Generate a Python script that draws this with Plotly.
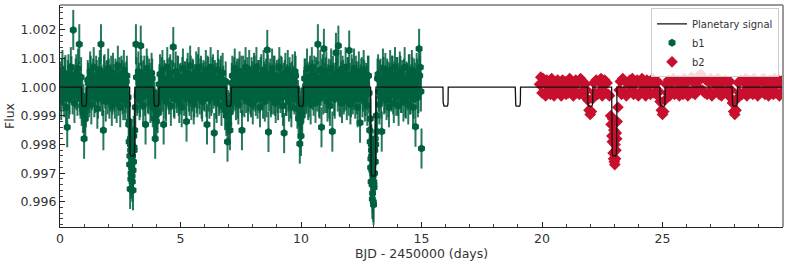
import plotly.graph_objects as go

# ---------------- data ----------------
b1_time = [
    0.00, 0.05, 0.10, 0.15, 0.20, 0.25, 0.30, 0.35, 0.40, 0.45, 0.50, 0.55, 0.60, 0.65, 0.70, 0.75, 0.80, 0.85, 0.90, 0.95,
    1.00, 1.05, 1.10, 1.15, 1.20, 1.25, 1.30, 1.35, 1.40, 1.45, 1.50, 1.55, 1.60, 1.65, 1.70, 1.75, 1.80, 1.85, 1.90, 1.95,
    2.00, 2.05, 2.10, 2.15, 2.20, 2.25, 2.30, 2.35, 2.40, 2.45, 2.50, 2.55, 2.60, 2.65, 2.70, 2.75, 2.80, 2.85, 2.90, 2.95,
    3.00, 3.05, 3.10, 3.15, 3.20, 3.25, 3.30, 3.35, 3.40, 3.45, 3.50, 3.55, 3.60, 3.65, 3.70, 3.75, 3.80, 3.85, 3.90, 3.95,
    4.00, 4.05, 4.10, 4.15, 4.20, 4.25, 4.30, 4.35, 4.40, 4.45, 4.50, 4.55, 4.60, 4.65, 4.70, 4.75, 4.80, 4.85, 4.90, 4.95,
    5.00, 5.05, 5.10, 5.15, 5.20, 5.25, 5.30, 5.35, 5.40, 5.45, 5.50, 5.55, 5.60, 5.65, 5.70, 5.75, 5.80, 5.85, 5.90, 5.95,
    6.00, 6.05, 6.10, 6.15, 6.20, 6.25, 6.30, 6.35, 6.40, 6.45, 6.50, 6.55, 6.60, 6.65, 6.70, 6.75, 6.80, 6.85, 6.90, 6.95,
    7.00, 7.05, 7.10, 7.15, 7.20, 7.25, 7.30, 7.35, 7.40, 7.45, 7.50, 7.55, 7.60, 7.65, 7.70, 7.75, 7.80, 7.85, 7.90, 7.95,
    8.00, 8.05, 8.10, 8.15, 8.20, 8.25, 8.30, 8.35, 8.40, 8.45, 8.50, 8.55, 8.60, 8.65, 8.70, 8.75, 8.80, 8.85, 8.90, 8.95,
    9.00, 9.05, 9.10, 9.15, 9.20, 9.25, 9.30, 9.35, 9.40, 9.45, 9.50, 9.55, 9.60, 9.65, 9.70, 9.75, 9.80, 9.85, 9.90, 9.95,
    10.00, 10.05, 10.10, 10.15, 10.20, 10.25, 10.30, 10.35, 10.40, 10.45, 10.50, 10.55, 10.60, 10.65, 10.70, 10.75, 10.80, 10.85, 10.90, 10.95,
    11.00, 11.05, 11.10, 11.15, 11.20, 11.25, 11.30, 11.35, 11.40, 11.45, 11.50, 11.55, 11.60, 11.65, 11.70, 11.75, 11.80, 11.85, 11.90, 11.95,
    12.00, 12.05, 12.10, 12.15, 12.20, 12.25, 12.30, 12.35, 12.40, 12.45, 12.50, 12.55, 12.60, 12.65, 12.70, 12.75, 12.80, 12.85, 12.90, 12.95,
    13.00, 13.05, 13.10, 13.15, 13.20, 13.25, 13.30, 13.35, 13.40, 13.45, 13.50, 13.55, 13.60, 13.65, 13.70, 13.75, 13.80, 13.85, 13.90, 13.95,
    14.00, 14.05, 14.10, 14.15, 14.20, 14.25, 14.30, 14.35, 14.40, 14.45, 14.50, 14.55, 14.60, 14.65, 14.70, 14.75, 14.80, 14.85, 14.90, 14.95,
    15.00,
    2.87, 2.89, 2.91, 2.93, 2.97, 2.99, 3.01, 3.03, 3.07, 2.92, 2.98, 3.02, 2.94, 3.06,
    12.87, 12.89, 12.91, 12.93, 12.97, 12.99, 13.01, 13.03, 13.07, 12.92, 12.98, 13.02, 12.94, 13.06, 13.08, 12.96,
    0.025, 0.075, 0.125, 0.175, 0.225, 0.275, 0.325, 0.375, 0.425, 0.475, 0.525, 0.575, 0.625, 0.675, 0.725, 0.775, 0.825, 0.875, 0.925, 0.975,
    1.025, 1.075, 1.125, 1.175, 1.225, 1.275, 1.325, 1.375, 1.425, 1.475, 1.525, 1.575, 1.625, 1.675, 1.725, 1.775, 1.825, 1.875, 1.925, 1.975,
    2.025, 2.075, 2.125, 2.175, 2.225, 2.275, 2.325, 2.375, 2.425, 2.475, 2.525, 2.575, 2.625, 2.675, 2.725, 2.775, 2.825, 2.875, 2.925, 2.975,
    3.025, 3.075, 3.125, 3.175, 3.225, 3.275, 3.325, 3.375, 3.425, 3.475, 3.525, 3.575, 3.625, 3.675, 3.725, 3.775, 3.825, 3.875, 3.925, 3.975,
    4.025, 4.075, 4.125, 4.175, 4.225, 4.275, 4.325, 4.375, 4.425, 4.475, 4.525, 4.575, 4.625, 4.675, 4.725, 4.775, 4.825, 4.875, 4.925, 4.975,
    5.025, 5.075, 5.125, 5.175, 5.225, 5.275, 5.325, 5.375, 5.425, 5.475, 5.525, 5.575, 5.625, 5.675, 5.725, 5.775, 5.825, 5.875, 5.925, 5.975,
    6.025, 6.075, 6.125, 6.175, 6.225, 6.275, 6.325, 6.375, 6.425, 6.475, 6.525, 6.575, 6.625, 6.675, 6.725, 6.775, 6.825, 6.875, 6.925, 6.975,
    7.025, 7.075, 7.125, 7.175, 7.225, 7.275, 7.325, 7.375, 7.425, 7.475, 7.525, 7.575, 7.625, 7.675, 7.725, 7.775, 7.825, 7.875, 7.925, 7.975,
    8.025, 8.075, 8.125, 8.175, 8.225, 8.275, 8.325, 8.375, 8.425, 8.475, 8.525, 8.575, 8.625, 8.675, 8.725, 8.775, 8.825, 8.875, 8.925, 8.975,
    9.025, 9.075, 9.125, 9.175, 9.225, 9.275, 9.325, 9.375, 9.425, 9.475, 9.525, 9.575, 9.625, 9.675, 9.725, 9.775, 9.825, 9.875, 9.925, 9.975,
    10.025, 10.075, 10.125, 10.175, 10.225, 10.275, 10.325, 10.375, 10.425, 10.475, 10.525, 10.575, 10.625, 10.675, 10.725, 10.775, 10.825, 10.875, 10.925, 10.975,
    11.025, 11.075, 11.125, 11.175, 11.225, 11.275, 11.325, 11.375, 11.425, 11.475, 11.525, 11.575, 11.625, 11.675, 11.725, 11.775, 11.825, 11.875, 11.925, 11.975,
    12.025, 12.075, 12.125, 12.175, 12.225, 12.275, 12.325, 12.375, 12.425, 12.475, 12.525, 12.575, 12.625, 12.675, 12.725, 12.775, 12.825, 12.875, 12.925, 12.975,
    13.025, 13.075, 13.125, 13.175, 13.225, 13.275, 13.325, 13.375, 13.425, 13.475, 13.525, 13.575, 13.625, 13.675, 13.725, 13.775, 13.825, 13.875, 13.925, 13.975,
    14.025, 14.075, 14.125, 14.175, 14.225, 14.275, 14.325, 14.375, 14.425, 14.475, 14.525, 14.575, 14.625, 14.675, 14.725, 14.775, 14.825, 14.875, 14.925, 14.975,
]
# flux offset from 1, in ppm
b1_flux_ppm = [
    200, -450, 600, -150, 350, -700, -1400, 450, -250, 700, 100, 2000, -550, 300, -100, 650, 1500, -400, -650, -900,
    -1800, -1100, -500, 250, -350, 550, -600, 150, 700, -200, 400, -750, 50, 600, 1500, -300, -1500, 450, -500, 250,
    650, -400, 100, -650, 500, -150, 300, -550, 750, 0, -700, 400, -250, 600, -450, 200, -600, -1300, -2400, -3000,
    -3300, -2600, -1500, 1500, -300, 550, -450, 1450, 200, -650, 400, -1300, 650, -200, 300, -550, 500, -700, -1100, -1800,
    -1200, -900, -350, 450, -250, 600, -1300, 150, -500, 700, -100, 350, -650, 250, 1400, -400, 550, -200, 400, -550,
    150, -700, 650, -300, 200, -1200, 500, -150, 750, -450, 300, -600, 100, 550, -350, 700, -250, 400, -500, 250,
    -150, 600, -1300, 350, -400, 700, -200, 450, -1600, 150, -550, 600, -300, 250, -650, 500, -350, -800, -1000, -1900,
    -1300, -1500, -600, 400, -150, 650, -450, 300, -600, 550, -200, -1500, 400, -350, 700, 100, -500, 600, -250, 350,
    -600, 500, -150, 700, -400, 250, -700, 450, -100, 600, -500, 300, 1300, -1560, 150, -350, 650, -250, 400, -550,
    250, -450, 700, -200, 350, -650, -1600, 500, -300, 600, -500, 150, -700, 450, -150, 550, -400, -750, -1100, -1970,
    -1700, -1000, -550, 300, -250, 650, -450, 200, -600, 700, -100, 400, -550, 250, 1500, -350, 600, -1400, 450, 1340,
    -200, 550, -500, 300, -650, 650, -1550, 150, -400, 1200, 500, 1450, -300, 600, -550, 250, -150, 700, -450, 350,
    1280, -600, 450, -250, 650, -400, 200, -700, 550, -1240, 300, -350, 600, -500, 150, -650, 400, -1500, -2500, -3400,
    -4000, -3000, -2000, -1550, 450, -600, 300, -1550, 650, -250, 500, -450, 200, -700, 600, -150, 400, -550, 700, -300,
    350, -650, 550, -200, 250, -500, 700, -400, 150, -600, 450, -250, 600, -700, 300, -1380, 500, -350, 1340, 700,
    -2140,
    -1900, -2700, -3550, -2200, -2800, -3100, -2400, -3600, -2100, -1800, -2000, -2900, -3200, -1700,
    -1900, -2800, -3300, -2400, -3700, -3100, -4100, -3500, -2600, -2000, -2700, -3300, -2900, -2200, -1800, -3900,
    -150, 300, 50, -350, 420, -100, 250, -400, 150, 380, -250, 100, -50, 450, -300, 200, -150, 350, -450, -600,
    -900, -700, -300, 150, -200, 400, -100, 300, -350, 50, 250, -400, 350, -150, 100, -300, 400, -50, 200, -250,
    300, -150, 400, -250, 100, -400, 200, 50, -300, 350, -100, 250, -450, 150, -200, 400, -350, -1200, -2000, -2700,
    -2900, -2200, -700, 350, -200, 150, -350, 400, -100, 250, -300, 50, 400, -250, 150, -400, 300, -200, -500, -750,
    -800, -550, 100, -300, 350, -150, 250, -400, 50, 300, -250, 450, -100, 200, -350, 150, -50, 400, -300, 100,
    -250, 350, -100, 200, -400, 300, 50, -300, 400, -150, 250, -350, 100, -200, 450, -50, 300, -400, 150, -100,
    200, -350, 400, -150, 100, -300, 350, -50, 250, -400, 150, 300, -200, 400, -100, 50, -350, 200, -550, -800,
    -900, -650, 150, -250, 350, -100, 200, -400, 300, -50, 400, -300, 100, 250, -200, 350, -150, 50, -350, 200,
    -100, 400, -300, 150, 250, -200, 350, -50, -400, 200, 100, -350, 450, -150, 300, -250, 50, 400, -300, 150,
    -200, 300, -50, 400, -350, 150, 250, -300, 100, -150, 350, -400, 200, 50, -250, 400, -100, -450, -650, -850,
    -850, -600, -100, 300, -200, 150, -350, 400, -50, 250, -300, 100, 350, -150, 200, -400, 50, 300, -250, 150,
    350, -200, 100, -400, 250, -50, 400, -300, 150, 300, -150, 50, -350, 200, 400, -250, 100, -100, 350, -300,
    150, -350, 300, -100, 50, 400, -250, 200, -400, 100, 350, -150, 250, -300, 50, 400, -200, -1100, -2200, -3000,
    -3400, -2600, -1000, 300, -150, 250, -400, 100, 350, -200, 50, 300, -350, 150, -100, 400, -250, 200, -50, 350,
    -300, 150, 400, -200, 50, 300, -350, 200, -100, 450, -250, 100, 350, -400, 150, -50, 300, -200, 400, -150,
]
b1_err_ppm = 700

b2_time = [
    19.90, 19.95,
    20.00, 20.05, 20.10, 20.15, 20.20, 20.25, 20.30, 20.35, 20.40, 20.45, 20.50, 20.55, 20.60, 20.65, 20.70, 20.75, 20.80, 20.85, 20.90, 20.95,
    21.00, 21.05, 21.10, 21.15, 21.20, 21.25, 21.30, 21.35, 21.40, 21.45, 21.50, 21.55, 21.60, 21.65, 21.70, 21.75, 21.80, 21.85, 21.90, 21.95,
    22.00, 22.05, 22.10, 22.15, 22.20, 22.25, 22.30, 22.35, 22.40, 22.45, 22.50, 22.55, 22.60, 22.65, 22.70, 22.75, 22.80, 22.85, 22.90, 22.95,
    23.00, 23.05, 23.10, 23.15, 23.20, 23.25, 23.30, 23.35, 23.40, 23.45, 23.50, 23.55, 23.60, 23.65, 23.70, 23.75, 23.80, 23.85, 23.90, 23.95,
    24.00, 24.05, 24.10, 24.15, 24.20, 24.25, 24.30, 24.35, 24.40, 24.45, 24.50, 24.55, 24.60, 24.65, 24.70, 24.75, 24.80, 24.85, 24.90, 24.95,
    25.00, 25.05, 25.10, 25.15, 25.20, 25.25, 25.30, 25.35, 25.40, 25.45, 25.50, 25.55, 25.60, 25.65, 25.70, 25.75, 25.80, 25.85, 25.90, 25.95,
    26.00, 26.05, 26.10, 26.15, 26.20, 26.25, 26.30, 26.35, 26.40, 26.45, 26.50, 26.55, 26.60, 26.65, 26.70, 26.75, 26.80, 26.85, 26.90, 26.95,
    27.00, 27.05, 27.10, 27.15, 27.20, 27.25, 27.30, 27.35, 27.40, 27.45, 27.50, 27.55, 27.60, 27.65, 27.70, 27.75, 27.80, 27.85, 27.90, 27.95,
    28.00, 28.05, 28.10, 28.15, 28.20, 28.25, 28.30, 28.35, 28.40, 28.45, 28.50, 28.55, 28.60, 28.65, 28.70, 28.75, 28.80, 28.85, 28.90, 28.95,
    29.00, 29.05, 29.10, 29.15, 29.20, 29.25, 29.30, 29.35, 29.40, 29.45, 29.50, 29.55, 29.60, 29.65, 29.70, 29.75, 29.80, 29.85, 29.90, 29.95,
    30.00,
    22.87, 22.92, 22.97, 23.02, 23.07, 23.12, 22.98, 23.03, 22.93, 23.08,
]
b2_flux_ppm = [
    100, 350,
    -200, 300, 150, -300, 250, -100, 200, -250, 300, 0, -300, 200, -150, 250, -200, 100, -300, 250, -50, 200,
    -250, 150, -200, 300, -100, 200, -300, 100, 250, -200, 150, -250, 300, -150, 200, -300, 100, -100, -450, -800,
    -950, -850, -400, 150, -200, 250, -250, 200, -150, 300, -300, 100, 250, -200, 150, -250, -300, -1000, -1700, -2300,
    -2600, -2500, -1800, -700, -100, 200, -250, 300, -150, 200, -300, 150, -200, 250, -100, 300, -250, 100, -200, 250,
    -300, 200, -150, 300, -200, 100, -300, 250, -100, 200, -250, 150, 300, -200, 100, -250, 200, -150, -500, -800,
    -950, -850, -450, 100, -200, 250, -300, 150, -100, 300, -250, 200, -150, 250, -300, 100, 200, -250, 300, -100,
    150, -300, 250, -150, 350, -200, 150, -250, 300, 0, 400, 250, 450, -100, 350, -200, 250, -250, 200, -150,
    300, -300, 150, -200, 250, -100, 300, -250, 100, -300, 200, -150, 250, -200, 150, -300, 200, -100, -550, -850,
    -950, -800, -400, 150, -200, 250, -250, 200, -150, 300, -300, 100, 250, -200, 150, -250, 300, -100, 200, -300,
    150, -200, 250, -150, 300, -250, 100, 200, -300, 250, -100, 150, -250, 300, -200, 100, 250, -300, 200, -150,
    250,
    -1300, -1900, -2500, -2700, -2200, -1200, -1500, -2000, -1100, -1600,
]

# planetary signal (transit model)
transit_time = [1, 3, 4, 7, 10, 13, 16, 19, 22, 23, 25, 28]
transit_depth = [0.00066, 0.0024, 0.00066, 0.00066, 0.00066, 0.0031,
                 0.00066, 0.00066, 0.00066, 0.0024, 0.00066, 0.00066]
model_start, model_end = 0.0, 30.0

# ---------------- styles ----------------
GREEN = "#00613F"
GREEN_ERR = "rgba(0,97,63,0.85)"
RED = "#C8102E"
half_w = 0.11
prof_x = [-1.0, -0.92, -0.8, -0.6, 0.6, 0.8, 0.92, 1.0]
prof_d = [0.0, 0.8, 0.96, 1.0, 1.0, 0.96, 0.8, 0.0]

model_x = [model_start]
model_y = [1.0]
for tc, d in zip(transit_time, transit_depth):
    for px, pd in zip(prof_x, prof_d):
        model_x.append(tc + px * half_w)
        model_y.append(1.0 - d * pd)
model_x.append(model_end)
model_y.append(1.0)

b1_flux = [1.0 + v * 1e-6 for v in b1_flux_ppm]
b2_flux = [1.0 + v * 1e-6 for v in b2_flux_ppm]

fig = go.Figure()
fig.add_trace(go.Scatter(
    x=b1_time, y=b1_flux, mode="markers", name="b1", legendrank=2,
    marker=dict(symbol="hexagon", size=8, color=GREEN, line=dict(width=0)),
    error_y=dict(type="constant", value=b1_err_ppm * 1e-6, color=GREEN_ERR,
                 thickness=2.0, width=0),
))
fig.add_trace(go.Scatter(
    x=b2_time, y=b2_flux, mode="markers", name="b2", legendrank=3,
    marker=dict(symbol="diamond", size=9, color=RED, line=dict(width=0)),
))
fig.add_trace(go.Scatter(
    x=model_x, y=model_y, mode="lines", name="Planetary signal", legendrank=1,
    line=dict(color="#111111", width=1.3),
))

axis_font = dict(family="DejaVu Sans", size=12.5, color="#333333")
fig.update_layout(
    width=789, height=263,
    margin=dict(l=60, r=6, t=5, b=36, autoexpand=False),
    paper_bgcolor="white", plot_bgcolor="white",
    font=axis_font,
    showlegend=True,
    legend=dict(x=0.9945, y=0.985, xanchor="right", yanchor="top",
                bgcolor="rgba(255,255,255,0.85)", bordercolor="#cccccc",
                borderwidth=1, font=dict(family="DejaVu Sans", size=10, color="#333333"),
                tracegroupgap=0, itemwidth=30),
    shapes=[
        dict(type="line", xref="paper", yref="paper", x0=0, x1=1, y0=1, y1=1,
             line=dict(color="#999999", width=2)),
        dict(type="line", xref="paper", yref="paper", x0=1, x1=1, y0=0, y1=1,
             line=dict(color="#999999", width=2)),
    ],
)
fig.update_xaxes(
    range=[0, 30.0], tickvals=[0, 5, 10, 15, 20, 25],
    ticks="inside", ticklen=5, tickwidth=1, tickcolor="#222222",
    showline=True, linecolor="#222222", linewidth=1.2, mirror=False,
    showgrid=False, zeroline=False, automargin=False,
    minor=dict(dtick=1, tick0=0, ticks="inside", ticklen=3, tickcolor="#444444", showgrid=False),
    title=dict(text="BJD - 2450000 (days)", standoff=2, font=axis_font),
    tickfont=axis_font,
)
fig.update_yaxes(
    range=[0.99512, 1.00287],
    tickvals=[0.996, 0.997, 0.998, 0.999, 1.000, 1.001, 1.002],
    tickformat=".3f",
    ticks="inside", ticklen=5, tickwidth=1, tickcolor="#222222",
    showline=True, linecolor="#222222", linewidth=1.2, mirror=False,
    showgrid=False, zeroline=False, automargin=False,
    minor=dict(dtick=0.0002, tick0=1.0, ticks="inside", ticklen=3, tickcolor="#444444", showgrid=False),
    title=dict(text="Flux", standoff=3, font=axis_font),
    tickfont=axis_font,
)

fig.write_html(
    "out.html",
    config={"displayModeBar": False},
    post_script="document.body.style.margin='0';document.body.style.overflow='hidden';",
)
